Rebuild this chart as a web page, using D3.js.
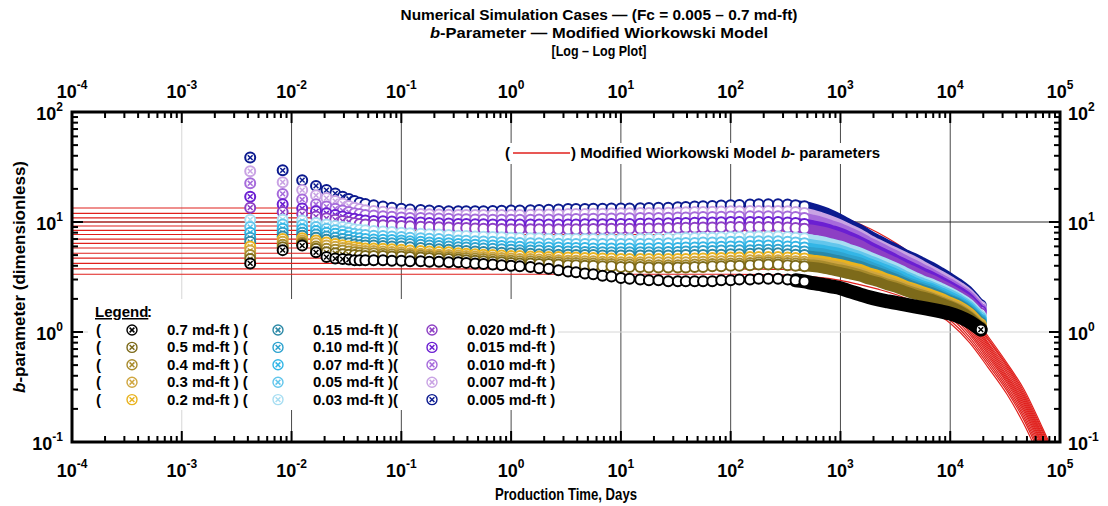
<!DOCTYPE html>
<html>
<head>
<meta charset="utf-8">
<script src="https://cdn.jsdelivr.net/npm/d3@7"></script>
<style>
  body { margin: 0; background: #fff; }
  svg { display: block; font-family: "Liberation Sans", Arial, sans-serif; }
</style>
</head>
<body>
<svg id="chart" width="1108" height="506"></svg>
<script>
// production time (days) shared by every simulation case
const days = [0.0042, 0.0083, 0.0125, 0.0167, 0.0208, 0.025, 0.0292, 0.0333, 0.0375, 0.0417,
  0.047, 0.056, 0.068, 0.082, 0.1, 0.12, 0.15, 0.18, 0.22, 0.27, 0.33, 0.39,
  0.47, 0.56, 0.68, 0.82, 1, 1.2, 1.5, 1.8, 2.2, 2.7, 3.3, 3.9,
  4.7, 5.6, 6.8, 8.2, 10, 12, 15, 18, 22, 27, 33, 39,
  47, 56, 68, 82, 100, 120, 150, 180, 220, 270, 330, 390, 470,
  560, 680, 820, 1000, 1200, 1500, 1800, 2200, 2700, 3300, 3900, 4700, 5600, 6800, 8200, 10000, 12000, 15000, 17000, 19000];

// b-parameter of each case (Fc in md-ft)
const b0005 = [38.5, 29.5, 24, 21.3, 19.5, 18.2, 17.0, 16.2, 15.5, 15.0,
  14.6, 14.2, 13.8, 13.5, 13.2, 13.0, 12.85, 12.7, 12.6, 12.55, 12.5, 12.5,
  12.5, 12.55, 12.6, 12.65, 12.7, 12.75, 12.8, 12.85, 12.9, 13.0, 13.1, 13.1,
  13.15, 13.2, 13.2, 13.25, 13.3, 13.3, 13.35, 13.4, 13.45, 13.5, 13.6, 13.7,
  13.8, 13.9, 14.0, 14.1, 14.2, 14.3, 14.4, 14.5, 14.5, 14.5, 14.4, 14.2, 13.9,
  13.4, 12.6, 11.7, 10.6, 9.6, 8.6, 7.7, 6.9, 6.2, 5.6, 5.1, 4.7, 4.3, 3.9, 3.5, 3.1, 2.75, 2.3, 2.0, 1.75];
const b0007 = [29, 23, 19.5, 17.5, 16.5, 15.5, 14.7, 14.0, 13.5, 13.1,
  12.8, 12.6, 12.4, 12.2, 12.0, 11.9, 11.8, 11.75, 11.7, 11.65, 11.6, 11.6,
  11.6, 11.6, 11.6, 11.6, 11.6, 11.6, 11.65, 11.7, 11.7, 11.75, 11.8, 11.8,
  11.85, 11.9, 11.9, 11.95, 12.0, 12.0, 12.05, 12.1, 12.1, 12.15, 12.2, 12.25,
  12.3, 12.35, 12.4, 12.45, 12.5, 12.55, 12.6, 12.6, 12.6, 12.6, 12.5, 12.3, 12.1,
  11.7, 11.0, 10.3, 9.5, 8.7, 7.8, 7.0, 6.3, 5.7, 5.2, 4.8, 4.4, 4.0, 3.6, 3.25, 2.9, 2.6, 2.2, 1.92, 1.7];
const b0010 = [22.5, 18, 16, 14.5, 13.8, 13.2, 12.7, 12.3, 12.0, 11.8,
  11.6, 11.45, 11.3, 11.15, 11.0, 10.9, 10.85, 10.8, 10.75, 10.7, 10.6, 10.6,
  10.55, 10.55, 10.5, 10.5, 10.5, 10.5, 10.5, 10.55, 10.55, 10.6, 10.6, 10.65,
  10.65, 10.7, 10.7, 10.75, 10.8, 10.8, 10.85, 10.9, 10.9, 10.95, 11.0, 11.0,
  11.05, 11.1, 11.1, 11.15, 11.2, 11.2, 11.25, 11.3, 11.3, 11.3, 11.2, 11.1, 10.9,
  10.5, 10.0, 9.4, 8.8, 8.1, 7.3, 6.6, 6.0, 5.4, 4.9, 4.5, 4.1, 3.75, 3.4, 3.05, 2.75, 2.45, 2.1, 1.83, 1.62];
const b0015 = [17, 14.5, 13.3, 12.5, 12.0, 11.6, 11.2, 10.9, 10.7, 10.5,
  10.3, 10.2, 10.15, 10.1, 10.0, 9.95, 9.9, 9.8, 9.75, 9.7, 9.6, 9.6,
  9.55, 9.55, 9.5, 9.5, 9.5, 9.5, 9.5, 9.5, 9.5, 9.5, 9.5, 9.5,
  9.55, 9.55, 9.55, 9.6, 9.6, 9.6, 9.65, 9.7, 9.7, 9.75, 9.8, 9.8,
  9.85, 9.9, 9.9, 9.95, 10.0, 10.0, 10.0, 10.0, 10.0, 10.0, 9.9, 9.8, 9.6,
  9.35, 9.0, 8.5, 8.0, 7.4, 6.7, 6.1, 5.5, 5.0, 4.5, 4.15, 3.8, 3.5, 3.2, 2.9, 2.6, 2.35, 2.0, 1.75, 1.55];
const b0020 = [13.5, 12.3, 11.8, 11.2, 10.8, 10.5, 10.2, 10.0, 9.8, 9.6,
  9.5, 9.45, 9.35, 9.3, 9.2, 9.15, 9.05, 9.0, 8.95, 8.9, 8.8, 8.8,
  8.75, 8.7, 8.7, 8.65, 8.6, 8.6, 8.6, 8.6, 8.6, 8.6, 8.6, 8.6,
  8.6, 8.65, 8.65, 8.7, 8.7, 8.7, 8.7, 8.75, 8.75, 8.8, 8.8, 8.85,
  8.85, 8.9, 8.9, 8.95, 9.0, 9.0, 9.0, 9.0, 9.0, 9.0, 8.9, 8.8, 8.7,
  8.5, 8.2, 7.8, 7.3, 6.8, 6.2, 5.6, 5.1, 4.6, 4.2, 3.85, 3.55, 3.25, 3.0, 2.72, 2.45, 2.2, 1.9, 1.67, 1.48];
const b003 = [10.5, 10.5, 10.3, 9.8, 9.5, 9.2, 9.0, 8.8, 8.6, 8.5,
  8.4, 8.3, 8.2, 8.1, 8.0, 7.9, 7.8, 7.75, 7.7, 7.6, 7.5, 7.45,
  7.4, 7.35, 7.3, 7.25, 7.2, 7.15, 7.1, 7.1, 7.05, 7.0, 7.0, 7.0,
  7.0, 7.0, 7.0, 7.0, 7.0, 7.0, 7.0, 7.05, 7.05, 7.1, 7.1, 7.15,
  7.15, 7.2, 7.2, 7.25, 7.3, 7.3, 7.35, 7.4, 7.4, 7.4, 7.3, 7.2, 7.1,
  6.9, 6.7, 6.4, 6.1, 5.7, 5.3, 4.9, 4.5, 4.15, 3.8, 3.5, 3.2, 2.95, 2.75, 2.52, 2.3, 2.08, 1.8, 1.58, 1.4];
const b005 = [9.0, 9.5, 9.4, 9.0, 8.7, 8.4, 8.2, 8.0, 7.8, 7.7,
  7.6, 7.5, 7.45, 7.4, 7.3, 7.2, 7.1, 7.05, 7.0, 6.9, 6.8, 6.75,
  6.7, 6.65, 6.6, 6.55, 6.5, 6.45, 6.4, 6.4, 6.35, 6.35, 6.3, 6.3,
  6.3, 6.3, 6.3, 6.3, 6.3, 6.3, 6.3, 6.35, 6.35, 6.4, 6.4, 6.45,
  6.45, 6.5, 6.5, 6.55, 6.6, 6.6, 6.65, 6.7, 6.7, 6.7, 6.6, 6.5, 6.4,
  6.25, 6.1, 5.85, 5.6, 5.25, 4.9, 4.55, 4.2, 3.85, 3.55, 3.25, 3.0, 2.8, 2.6, 2.4, 2.2, 2.0, 1.72, 1.52, 1.35];
const b007 = [8.0, 8.7, 8.6, 8.3, 8.0, 7.8, 7.6, 7.4, 7.2, 7.1,
  7.0, 6.95, 6.9, 6.85, 6.8, 6.7, 6.6, 6.5, 6.45, 6.4, 6.3, 6.25,
  6.2, 6.15, 6.1, 6.05, 6.0, 5.95, 5.9, 5.9, 5.85, 5.85, 5.8, 5.8,
  5.8, 5.75, 5.75, 5.75, 5.75, 5.75, 5.75, 5.75, 5.8, 5.8, 5.8, 5.85,
  5.85, 5.9, 5.9, 5.95, 6.0, 6.0, 6.05, 6.1, 6.1, 6.1, 6.0, 5.95, 5.85,
  5.75, 5.6, 5.4, 5.2, 4.9, 4.6, 4.25, 3.95, 3.65, 3.35, 3.1, 2.85, 2.65, 2.5, 2.3, 2.1, 1.92, 1.65, 1.46, 1.3];
const b010 = [7.2, 8.0, 8.0, 7.7, 7.4, 7.2, 7.0, 6.85, 6.7, 6.6,
  6.5, 6.5, 6.45, 6.4, 6.4, 6.3, 6.2, 6.1, 6.05, 6.0, 5.9, 5.85,
  5.8, 5.75, 5.7, 5.65, 5.6, 5.55, 5.5, 5.5, 5.45, 5.45, 5.4, 5.4,
  5.35, 5.35, 5.3, 5.3, 5.3, 5.3, 5.3, 5.3, 5.3, 5.35, 5.35, 5.4,
  5.4, 5.45, 5.45, 5.5, 5.5, 5.55, 5.55, 5.6, 5.6, 5.6, 5.5, 5.45, 5.4,
  5.3, 5.2, 5.0, 4.8, 4.55, 4.3, 4.0, 3.7, 3.4, 3.15, 2.9, 2.7, 2.55, 2.4, 2.2, 2.0, 1.85, 1.6, 1.42, 1.26];
const b015 = [6.6, 7.4, 7.5, 7.2, 6.9, 6.7, 6.5, 6.4, 6.25, 6.15,
  6.1, 6.1, 6.05, 6.0, 6.0, 5.9, 5.8, 5.7, 5.65, 5.6, 5.5, 5.45,
  5.4, 5.35, 5.3, 5.25, 5.2, 5.2, 5.15, 5.1, 5.1, 5.05, 5.05, 5.0,
  5.0, 5.0, 4.95, 4.95, 4.95, 4.95, 4.95, 4.95, 4.95, 4.95, 4.95, 5.0,
  5.0, 5.0, 5.05, 5.05, 5.1, 5.1, 5.15, 5.2, 5.2, 5.2, 5.1, 5.05, 5.0,
  4.9, 4.8, 4.65, 4.45, 4.25, 4.0, 3.75, 3.5, 3.25, 3.0, 2.8, 2.6, 2.45, 2.3, 2.12, 1.95, 1.8, 1.55, 1.38, 1.22];
const b02 = [6.0, 7.0, 7.1, 6.8, 6.5, 6.3, 6.15, 6.0, 5.9, 5.8,
  5.75, 5.75, 5.7, 5.65, 5.6, 5.5, 5.45, 5.4, 5.35, 5.3, 5.2, 5.15,
  5.1, 5.05, 5.0, 4.95, 4.9, 4.9, 4.85, 4.85, 4.8, 4.8, 4.75, 4.75,
  4.7, 4.7, 4.65, 4.65, 4.6, 4.6, 4.6, 4.6, 4.6, 4.6, 4.6, 4.6,
  4.65, 4.65, 4.7, 4.7, 4.75, 4.75, 4.8, 4.8, 4.8, 4.8, 4.75, 4.7, 4.65,
  4.55, 4.45, 4.3, 4.15, 3.95, 3.75, 3.5, 3.3, 3.05, 2.85, 2.65, 2.5, 2.35, 2.2, 2.05, 1.88, 1.74, 1.5, 1.33, 1.18];
const b03 = [5.5, 6.6, 6.8, 6.4, 6.1, 5.95, 5.8, 5.7, 5.6, 5.5,
  5.45, 5.45, 5.4, 5.35, 5.3, 5.2, 5.15, 5.1, 5.05, 5.0, 4.95, 4.9,
  4.85, 4.8, 4.75, 4.7, 4.65, 4.6, 4.6, 4.55, 4.55, 4.5, 4.45, 4.45,
  4.4, 4.4, 4.35, 4.35, 4.3, 4.3, 4.3, 4.3, 4.3, 4.3, 4.3, 4.3,
  4.35, 4.35, 4.4, 4.4, 4.45, 4.45, 4.5, 4.5, 4.5, 4.5, 4.45, 4.4, 4.35,
  4.3, 4.2, 4.05, 3.9, 3.7, 3.5, 3.3, 3.1, 2.9, 2.7, 2.55, 2.4, 2.25, 2.1, 1.96, 1.82, 1.68, 1.45, 1.29, 1.15];
const b04 = [5.0, 6.2, 6.5, 6.0, 5.7, 5.6, 5.5, 5.4, 5.3, 5.25,
  5.2, 5.2, 5.15, 5.1, 5.1, 5.0, 4.95, 4.9, 4.85, 4.8, 4.75, 4.7,
  4.65, 4.6, 4.55, 4.5, 4.45, 4.4, 4.4, 4.35, 4.35, 4.3, 4.25, 4.25,
  4.2, 4.2, 4.15, 4.15, 4.1, 4.1, 4.1, 4.05, 4.05, 4.05, 4.05, 4.05,
  4.1, 4.1, 4.15, 4.15, 4.2, 4.2, 4.25, 4.3, 4.3, 4.3, 4.25, 4.2, 4.15,
  4.1, 4.0, 3.85, 3.7, 3.55, 3.35, 3.15, 2.95, 2.75, 2.6, 2.45, 2.3, 2.18, 2.05, 1.9, 1.76, 1.62, 1.4, 1.25, 1.12];
const b05 = [4.6, 5.9, 6.3, 5.7, 5.3, 5.2, 5.1, 5.05, 5.0, 4.95,
  4.9, 4.9, 4.9, 4.85, 4.85, 4.8, 4.75, 4.7, 4.65, 4.6, 4.55, 4.5,
  4.45, 4.4, 4.35, 4.3, 4.25, 4.2, 4.2, 4.15, 4.15, 4.1, 4.05, 4.05,
  4.0, 4.0, 3.95, 3.95, 3.9, 3.9, 3.9, 3.85, 3.85, 3.85, 3.85, 3.85,
  3.9, 3.9, 3.95, 3.95, 4.0, 4.0, 4.05, 4.1, 4.1, 4.1, 4.05, 4.0, 3.95,
  3.9, 3.8, 3.65, 3.5, 3.35, 3.2, 3.0, 2.85, 2.65, 2.5, 2.35, 2.2, 2.1, 2.0, 1.85, 1.72, 1.58, 1.37, 1.22, 1.1];
const b07 = [4.2, 5.55, 6.1, 5.3, 4.8, 4.65, 4.6, 4.55, 4.5, 4.5,
  4.5, 4.5, 4.5, 4.45, 4.45, 4.4, 4.4, 4.35, 4.35, 4.3, 4.3, 4.25,
  4.2, 4.15, 4.1, 4.05, 4.0, 3.95, 3.9, 3.8, 3.75, 3.65, 3.55, 3.5,
  3.4, 3.35, 3.25, 3.2, 3.1, 3.05, 3.0, 2.95, 2.95, 2.9, 2.9, 2.9,
  2.9, 2.9, 2.9, 2.95, 2.95, 3.0, 3.0, 3.05, 3.05, 3.05, 3.0, 2.95, 2.88,
  2.78, 2.7, 2.6, 2.5, 2.35, 2.2, 2.08, 1.98, 1.9, 1.83, 1.77, 1.71, 1.66, 1.6, 1.54, 1.47, 1.38, 1.24, 1.14, 1.05];

// modified Wiorkowski model curves
const modelDays = [0.0001, 100, 300, 600, 1000, 1500, 2200, 3300, 4700, 6800, 10000, 15000, 22000, 33000, 47000, 68000, 100000];
const wk01 = [13.4, 13.4, 13.3, 12.6, 11.2, 9.6, 8.0, 6.3, 4.9, 3.6, 2.5, 1.55, 0.92, 0.52, 0.3, 0.14, 0.06];
const wk02 = [12.0, 12.0, 11.9, 11.3, 10.2, 8.8, 7.4, 5.9, 4.6, 3.4, 2.38, 1.49, 0.88, 0.5, 0.285, 0.133, 0.057];
const wk03 = [10.9, 10.9, 10.8, 10.3, 9.35, 8.15, 6.9, 5.55, 4.35, 3.25, 2.28, 1.43, 0.85, 0.48, 0.272, 0.127, 0.054];
const wk04 = [10.0, 10.0, 9.9, 9.5, 8.7, 7.6, 6.45, 5.25, 4.15, 3.1, 2.18, 1.38, 0.81, 0.46, 0.26, 0.121, 0.052];
const wk05 = [9.2, 9.2, 9.1, 8.8, 8.05, 7.1, 6.05, 4.95, 3.9, 2.95, 2.08, 1.32, 0.78, 0.44, 0.249, 0.116, 0.05];
const wk06 = [8.4, 8.4, 8.3, 8.05, 7.45, 6.6, 5.65, 4.65, 3.7, 2.8, 1.98, 1.26, 0.75, 0.42, 0.238, 0.111, 0.048];
const wk07 = [7.7, 7.7, 7.6, 7.4, 6.85, 6.1, 5.25, 4.35, 3.5, 2.65, 1.89, 1.2, 0.72, 0.4, 0.228, 0.106, 0.046];
const wk08 = [7.0, 7.0, 6.95, 6.75, 6.3, 5.65, 4.9, 4.1, 3.3, 2.52, 1.8, 1.15, 0.69, 0.385, 0.218, 0.101, 0.044];
const wk09 = [6.4, 6.4, 6.35, 6.2, 5.8, 5.2, 4.55, 3.82, 3.1, 2.4, 1.72, 1.1, 0.66, 0.37, 0.208, 0.097, 0.042];
const wk10 = [5.8, 5.8, 5.75, 5.6, 5.3, 4.8, 4.2, 3.55, 2.9, 2.26, 1.63, 1.05, 0.63, 0.355, 0.198, 0.092, 0.04];
const wk11 = [5.2, 5.2, 5.15, 5.05, 4.8, 4.4, 3.85, 3.3, 2.72, 2.12, 1.55, 1.0, 0.6, 0.34, 0.188, 0.087, 0.038];
const wk12 = [4.7, 4.7, 4.65, 4.55, 4.35, 4.0, 3.55, 3.05, 2.53, 1.98, 1.46, 0.95, 0.57, 0.322, 0.178, 0.082, 0.036];
const wk13 = [4.2, 4.2, 4.15, 4.05, 3.85, 3.55, 3.2, 2.78, 2.33, 1.84, 1.37, 0.9, 0.54, 0.305, 0.168, 0.077, 0.034];
const wk14 = [3.75, 3.75, 3.7, 3.6, 3.4, 3.15, 2.85, 2.5, 2.12, 1.7, 1.28, 0.85, 0.51, 0.29, 0.158, 0.072, 0.032];
const wk15 = [3.35, 3.35, 3.3, 3.15, 2.95, 2.7, 2.45, 2.17, 1.88, 1.55, 1.2, 0.8, 0.48, 0.27, 0.145, 0.066, 0.029];

// legend order (three columns of five)
const caseLabels = ['0.7', '0.5', '0.4', '0.3', '0.2', '0.15', '0.10', '0.07', '0.05', '0.03', '0.020', '0.015', '0.010', '0.007', '0.005'];
const caseColors = ['#000000', '#7d6a1a', '#a88b2c', '#cfa640', '#e9b31f', '#2b88a6', '#2ea3cf', '#33b6e6', '#62c6ec', '#a8def2', '#8d3fc4', '#6b1fd2', '#a66bdb', '#c9a3e4', '#0b1a8f'];
const caseValues = [b07, b05, b04, b03, b02, b015, b010, b007, b005, b003, b0020, b0015, b0010, b0007, b0005];
const modelCurves = [wk01, wk02, wk03, wk04, wk05, wk06, wk07, wk08, wk09, wk10, wk11, wk12, wk13, wk14, wk15];

const L = 72, R = 1060, T = 112, B = 442;
const svg = d3.select('#chart');

const x = d3.scaleLog().domain([1e-4, 1e5]).range([L, R]);
const y = d3.scaleLog().domain([0.1, 100]).range([B, T]);

const isDecade = v => Math.abs(Math.log10(v) - Math.round(Math.log10(v))) < 1e-9;
const xTicks = x.ticks();
const yTicks = y.ticks();
const xDecades = xTicks.filter(isDecade);
const yDecades = yTicks.filter(isDecade);

svg.append('defs').append('clipPath').attr('id', 'plotclip')
  .append('rect').attr('x', L).attr('y', T).attr('width', R - L).attr('height', B - T);

// grid
const grid = svg.append('g');
grid.selectAll('.vg').data(xDecades.filter(d => d > 1e-4 && d < 1e5)).join('line')
  .attr('x1', d => x(d)).attr('x2', d => x(d)).attr('y1', T).attr('y2', B)
  .attr('stroke', d => d === 1e-3 ? '#d6d6d6' : '#4a4a4a').attr('stroke-width', 1);
grid.selectAll('.hg').data(yDecades.filter(d => d > 0.1 && d < 100)).join('line')
  .attr('x1', L).attr('x2', R).attr('y1', d => y(d)).attr('y2', d => y(d))
  .attr('stroke', d => d === 1 ? '#d6d6d6' : '#2a2a2a').attr('stroke-width', 1);

// white boxes behind the legends
svg.append('rect').attr('x', 88).attr('y', 299).attr('width', 470).attr('height', 111).attr('fill', '#fff');
svg.append('rect').attr('x', 500).attr('y', 143).attr('width', 396).attr('height', 21).attr('fill', '#fff');

const plot = svg.append('g').attr('clip-path', 'url(#plotclip)');

// model curves
const modelLine = d3.line().x(d => x(d[0])).y(d => y(d[1])).curve(d3.curveMonotoneX);
plot.append('g').selectAll('path').data(modelCurves).join('path')
  .attr('d', c => modelLine(modelDays.map((t, i) => [t, c[i]])))
  .attr('fill', 'none').attr('stroke', '#e0201c').attr('stroke-width', 1.2);

// simulation cases: drawn from lowest Fc (top) to highest Fc (bottom)
const bandLine = d3.line().x(d => x(d[0])).y(d => y(d[1])).curve(d3.curveMonotoneX);
const markerR = 5;
function drawMarker(g, color, sw, cross) {
  g.append('circle').attr('r', markerR).attr('fill', '#fff').attr('stroke', color).attr('stroke-width', sw);
  if (cross) g.append('path').attr('d', 'M-2.4,-2.4L2.4,2.4M-2.4,2.4L2.4,-2.4').attr('stroke', color).attr('stroke-width', 1.5);
}
for (let k = caseValues.length - 1; k >= 0; k--) {
  const vals = caseValues[k];
  const color = caseColors[k];
  const pts = days.map((t, i) => [t, vals[i]]);
  const g = plot.append('g');
  g.append('path').attr('d', bandLine(pts.filter(p => p[0] >= 390)))
    .attr('fill', 'none').attr('stroke', color).attr('stroke-width', k === 0 ? 14 : 10)
    .attr('stroke-linecap', 'round').attr('stroke-linejoin', 'round');
  g.selectAll('g.m').data(pts.filter(p => p[0] <= 470)).join('g').attr('class', 'm')
    .attr('transform', p => `translate(${x(p[0])},${y(p[1])})`)
    .each(function (p, i) { drawMarker(d3.select(this), color, 2, i < 8); });
  const last = pts[pts.length - 1];
  drawMarker(g.append('g').attr('transform', `translate(${x(last[0])},${y(last[1])})`), color, 1.9, true);
}

// frame and ticks
const axes = svg.append('g').attr('stroke', '#000');
axes.append('rect').attr('x', L).attr('y', T).attr('width', R - L).attr('height', B - T)
  .attr('fill', 'none').attr('stroke-width', 3);
const tl = d => isDecade(d) ? 11 : 6;
axes.selectAll('.tb').data(xTicks).join('line')
  .attr('x1', d => x(d)).attr('x2', d => x(d)).attr('y1', B).attr('y2', d => B - tl(d)).attr('stroke-width', 2);
axes.selectAll('.tt').data(xTicks).join('line')
  .attr('x1', d => x(d)).attr('x2', d => x(d)).attr('y1', T).attr('y2', d => T + tl(d)).attr('stroke-width', 2);
axes.selectAll('.tl').data(yTicks).join('line')
  .attr('y1', d => y(d)).attr('y2', d => y(d)).attr('x1', L).attr('x2', d => L + tl(d)).attr('stroke-width', 2);
axes.selectAll('.tr').data(yTicks).join('line')
  .attr('y1', d => y(d)).attr('y2', d => y(d)).attr('x1', R).attr('x2', d => R - tl(d)).attr('stroke-width', 2);

// power-of-ten labels
function powLabel(sel, d) {
  const e = Math.round(Math.log10(d));
  sel.append('tspan').text('10');
  sel.append('tspan').attr('dy', -9).attr('font-size', 12).text(e);
}
const lab = svg.append('g').attr('font-weight', 'bold').attr('font-size', 18).attr('fill', '#000');
lab.selectAll('.xb').data(xDecades).join('text')
  .attr('x', d => x(d)).attr('y', 477).attr('text-anchor', 'middle')
  .each(function (d) { powLabel(d3.select(this), d); });
lab.selectAll('.xt').data(xDecades).join('text')
  .attr('x', d => x(d)).attr('y', 98).attr('text-anchor', 'middle')
  .each(function (d) { powLabel(d3.select(this), d); });
lab.selectAll('.yl').data(yDecades).join('text')
  .attr('x', 63).attr('y', d => y(d) + 8).attr('text-anchor', 'end')
  .each(function (d) { powLabel(d3.select(this), d); });
lab.selectAll('.yr').data(yDecades).join('text')
  .attr('x', 1068).attr('y', d => y(d) + 8).attr('text-anchor', 'start')
  .each(function (d) { powLabel(d3.select(this), d); });

// titles
const titles = svg.append('g').attr('font-weight', 'bold').attr('font-size', 15.5).attr('text-anchor', 'middle');
titles.append('text').attr('x', 599).attr('y', 20)
  .attr('textLength', 397).attr('lengthAdjust', 'spacingAndGlyphs')
  .text('Numerical Simulation Cases \u2014 (Fc = 0.005 \u2013 0.7 md-ft)');
const t2 = titles.append('text').attr('x', 599).attr('y', 38)
  .attr('textLength', 338).attr('lengthAdjust', 'spacingAndGlyphs');
t2.append('tspan').attr('font-style', 'italic').text('b');
t2.append('tspan').text('-Parameter \u2014 Modified Wiorkowski Model');
titles.append('text').attr('x', 599).attr('y', 56)
  .attr('textLength', 95).attr('lengthAdjust', 'spacingAndGlyphs')
  .text('[Log \u2013 Log Plot]');
titles.append('text').attr('x', 566).attr('y', 500).attr('font-size', 17)
  .attr('textLength', 142).attr('lengthAdjust', 'spacingAndGlyphs')
  .text('Production Time, Days');
const yt = titles.append('text').attr('transform', 'translate(25,277) rotate(-90)')
  .attr('font-size', 16.5).attr('textLength', 232).attr('lengthAdjust', 'spacingAndGlyphs');
yt.append('tspan').attr('font-style', 'italic').text('b');
yt.append('tspan').text('-parameter (dimensionless)');

// model legend
const ml = svg.append('g').attr('font-weight', 'bold').attr('font-size', 15);
ml.append('text').attr('x', 505).attr('y', 158).text('(');
ml.append('line').attr('x1', 513).attr('x2', 570).attr('y1', 153).attr('y2', 153)
  .attr('stroke', '#e0201c').attr('stroke-width', 1.6);
const mlt = ml.append('text').attr('x', 571).attr('y', 158);
mlt.append('tspan').text(') Modified Wiorkowski Model ');
mlt.append('tspan').attr('font-style', 'italic').text('b');
mlt.append('tspan').text('- parameters');

// case legend
const lg = svg.append('g').attr('font-weight', 'bold').attr('font-size', 15);
lg.append('text').attr('x', 95).attr('y', 317).attr('text-decoration', 'underline').text('Legend');
lg.append('text').attr('x', 147).attr('y', 317).text(':');
const colX = [132, 278, 432];
const colTail = [' ) (', ' )(', ' )'];
caseLabels.forEach((lbl, i) => {
  const col = Math.floor(i / 5), row = i % 5;
  const cy = 330 + row * 17.4;
  if (col === 0) lg.append('text').attr('x', 96).attr('y', cy + 5).text('(');
  drawMarker(lg.append('g').attr('transform', `translate(${colX[col]},${cy})`), caseColors[i], 1.4, true);
  lg.append('text').attr('x', colX[col] + 35).attr('y', cy + 5).text(lbl + ' md-ft' + colTail[col]);
});
</script>
</body>
</html>
